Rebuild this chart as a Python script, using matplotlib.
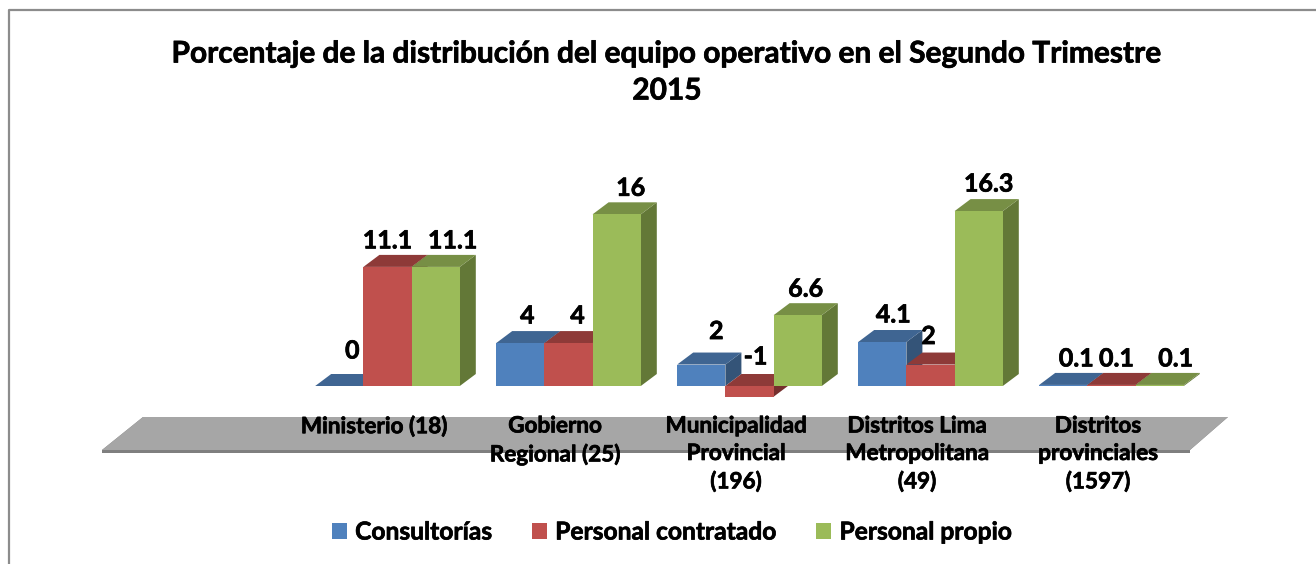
#!/usr/bin/env python3
"""Porcentaje de la distribucion del equipo operativo - pseudo 3D bars"""

import matplotlib
matplotlib.use('Agg')
import matplotlib.pyplot as plt
import matplotlib.patheffects as pe
from matplotlib.lines import Line2D
from matplotlib.patches import Patch, Polygon

categories = ['Ministerio (18)', 'Gobierno\nRegional (25)', 'Municipalidad\nProvincial\n(196)',
              'Distritos Lima\nMetropolitana\n(49)', 'Distritos\nprovinciales\n(1597)']
series_names = ['Consultorías', 'Personal contratado', 'Personal propio']
consultorias = [0, 4, 2, 4.1, 0.1]
contratado = [11.1, 4, -1, 2, 0.1]
propio = [11.1, 16, 6.6, 16.3, 0.1]
title = 'Porcentaje de la distribución del equipo operativo en el Segundo Trimestre\n2015'

W, H = 1316, 564
PX_X = 181.0     # pixels per category
PX_Y = 10.73     # pixels per value unit
X0, Y0 = 387.5, 386.0   # pixel position of category 0 and value 0

FRONT = ['#4f81bd', '#c0504d', '#9bbb59']
TOP = ['#3f6592', '#8e3a38', '#778f45']
SIDE = ['#345478', '#752f2d', '#637837']

# label nudges in pixels (right, up) from each bar's front top centre
label_nudge = [
    [(13, 35), (7, 27), (15, 33), (11, 27), (13, 26)],
    [(0, 26), (9, 27), (6, 29), (-2, 28), (5, 26)],
    [(17, 26), (14, 26), (8, 26), (10, 27), (16, 26)],
]

plt.rcParams['font.family'] = ['Lato', 'DejaVu Sans']
plt.rcParams['font.weight'] = 'bold'

# Lato bold is a bit lighter than the reference text
heavy = [pe.withStroke(linewidth=0.5, foreground='black')]

fig = plt.figure(figsize=(W / 100, H / 100), dpi=100)
ax = fig.add_axes([0, 0, 1, 1])
ax.set_xlim(-X0 / PX_X, (W - X0) / PX_X)
ax.set_ylim((Y0 - H) / PX_Y, Y0 / PX_Y)
ax.axis('off')


def px(x, y):
    """pixel position (y down) to data coordinates"""
    return ((x - X0) / PX_X, (Y0 - y) / PX_Y)


# chart frame, only left and top edges show in the crop
fx, fy = zip(*[px(9, H), px(9, 10), px(W, 10)])
ax.add_line(Line2D(fx, fy, color='#8c8c8c', lw=1.6, zorder=1))

# floor
ax.add_patch(Polygon([px(143, 417), px(102, 450), px(102, 453), px(1190, 453), px(1190, 450), px(1228, 417)],
                     closed=True, fc='#7f7f7f', ec='none', zorder=1))
ax.add_patch(Polygon([px(143, 417), px(102, 450), px(1190, 450), px(1228, 417)],
                     closed=True, fc='#a6a6a6', ec='none', zorder=1))

bar_w = 48.2 / PX_X
dx = 16 / PX_X
dy = 12 / PX_Y
zorder = 2
for s, values in enumerate([consultorias, contratado, propio]):
    for g, v in enumerate(values):
        left = g + (s - 1.5) * bar_w
        right = left + bar_w
        top = max(v, 0)
        low = min(v, 0)
        # side, top, then front face
        ax.add_patch(Polygon([(right, low), (right + dx, low + dy), (right + dx, top + dy), (right, top)],
                             closed=True, fc=SIDE[s], ec='none', zorder=zorder))
        ax.add_patch(Polygon([(left, top), (left + dx, top + dy), (right + dx, top + dy), (right, top)],
                             closed=True, fc=TOP[s], ec='none', zorder=zorder))
        ax.add_patch(Polygon([(left, low), (left, top), (right, top), (right, low)],
                             closed=True, fc=FRONT[s], ec='none', zorder=zorder))
        nx, ny = label_nudge[s][g]
        ax.annotate(f'{v:g}', xy=(left + bar_w / 2, top), xytext=(nx * 0.72, ny * 0.72),
                    textcoords='offset points', ha='center', va='center',
                    fontsize=18, color='black', zorder=10, path_effects=heavy)
    zorder += 1

# category labels sit on the floor
for g, cat in enumerate(categories):
    ax.annotate(cat, xy=(g, 0), xytext=(-13.5 * 0.72, -29.5 * 0.72), textcoords='offset points',
                ha='center', va='top', fontsize=16.2, linespacing=1.38, color='black', zorder=10,
                path_effects=heavy)

fig.text(667 / W, 1 - 72 / H, title, ha='center', va='center', fontsize=21.5, linespacing=1.39, color='black',
         path_effects=heavy)

handles = [Patch(fc=c, ec='none') for c in FRONT]
leg = fig.legend(handles, series_names, loc='center', bbox_to_anchor=(672 / W, 1 - 532 / H), ncol=3, frameon=False,
                 fontsize=17.7, handlelength=0.6, handleheight=0.6, handletextpad=0.35, columnspacing=1.6,
                 borderpad=0, borderaxespad=0)
for t in leg.get_texts():
    t.set_path_effects(heavy)

fig.savefig('out.png', dpi=100)
